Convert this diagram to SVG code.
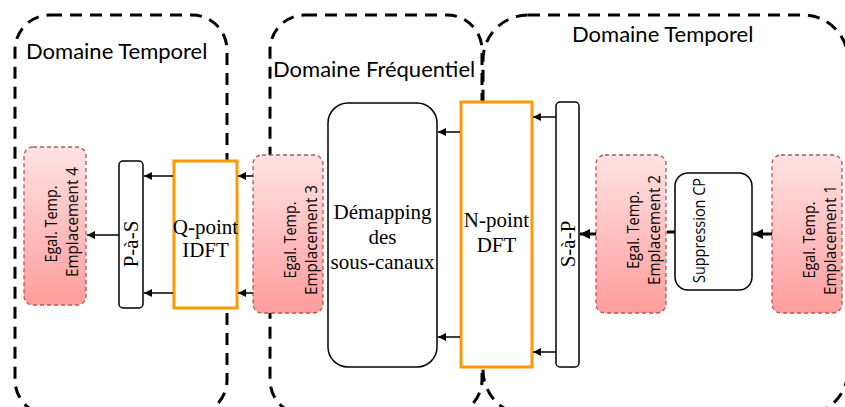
<svg xmlns="http://www.w3.org/2000/svg" width="845" height="407" viewBox="0 0 845 407">
<style>
.dom{fill:none;stroke:#000;stroke-width:3;stroke-dasharray:12 8}
.dl{font-family:Lato,"Open Sans",sans-serif;font-size:22px;fill:#000}
.eg{stroke:#b85450;stroke-width:1.3;stroke-dasharray:4 3;fill:url(#pg)}
.et{font-family:"Open Sans",Lato,sans-serif;font-size:15.5px;fill:#000;text-anchor:middle}
.bx{fill:#fff;stroke:#000;stroke-width:1.5}
.or{fill:#fff;stroke:#ff9900;stroke-width:3}
.st{font-family:"Liberation Serif","Times New Roman",serif;font-size:21px;fill:#000;text-anchor:middle}
.cn{stroke:#000;stroke-width:1.5;fill:none}
.ck{stroke:#000;stroke-width:3;fill:none}
</style>
<defs>
<linearGradient id="pg" x1="0" y1="0" x2="0" y2="1">
<stop offset="0" stop-color="#ffe3e3"/>
<stop offset="1" stop-color="#ff9c9c"/>
</linearGradient>
<marker id="ah" viewBox="0 0 10 10" refX="10" refY="5" markerWidth="8" markerHeight="8" markerUnits="userSpaceOnUse" orient="auto">
<path d="M0,0 L10,5 L0,10 z" fill="#000"/>
</marker>
<marker id="ahb" viewBox="0 0 10 10" refX="10" refY="5" markerWidth="10" markerHeight="10" markerUnits="userSpaceOnUse" orient="auto">
<path d="M0,0 L10,5 L0,10 z" fill="#000"/>
</marker>
</defs>

<g id="domaines">
<rect class="dom" x="15" y="15" width="212" height="400" rx="35"/>
<rect class="dom" x="270" y="15" width="212" height="400" rx="35"/>
<rect class="dom" x="483" y="15" width="365" height="400" rx="45"/>
<text class="dl" x="26" y="59">Domaine Temporel</text>
<text class="dl" x="273" y="77">Domaine Fréquentiel</text>
<text class="dl" x="572" y="42">Domaine Temporel</text>
</g>

<g id="egal4">
<rect class="eg" x="24" y="147" width="62" height="158" rx="9"/>
<text class="et" transform="translate(57,224) rotate(-90)" textLength="77" lengthAdjust="spacingAndGlyphs">Egal. Temp.</text>
<text class="et" transform="translate(78,222) rotate(-90)" textLength="110" lengthAdjust="spacingAndGlyphs">Emplacement 4</text>
</g>
<g id="pas">
<rect class="bx" x="119" y="161" width="24" height="147" rx="4"/>
<text class="st" transform="translate(138,244) rotate(-90)">P-à-S</text>
</g>
<g id="idft">
<rect class="or" x="174" y="161" width="63" height="147"/>
<text class="st" x="205.5" y="234">Q-point</text>
<text class="st" x="205.5" y="257">IDFT</text>
</g>
<g id="egal3">
<rect class="eg" x="253" y="155" width="70" height="158" rx="9"/>
<text class="et" transform="translate(296,240) rotate(-90)" textLength="77" lengthAdjust="spacingAndGlyphs">Egal. Temp.</text>
<text class="et" transform="translate(317,240) rotate(-90)" textLength="110" lengthAdjust="spacingAndGlyphs">Emplacement 3</text>
</g>
<g id="demapping">
<rect class="bx" x="328" y="103" width="109" height="264" rx="20"/>
<text class="st" x="382.5" y="219">Démapping</text>
<text class="st" x="382.5" y="244">des</text>
<text class="st" x="382.5" y="269">sous-canaux</text>
</g>
<g id="dft">
<rect class="or" x="461" y="102" width="71" height="265"/>
<text class="st" x="496.5" y="227">N-point</text>
<text class="st" x="496.5" y="252">DFT</text>
</g>
<g id="sap">
<rect class="bx" x="556" y="102" width="23" height="265" rx="4"/>
<text class="st" transform="translate(575,244) rotate(-90)">S-à-P</text>
</g>
<g id="egal2">
<rect class="eg" x="596" y="155" width="70" height="158" rx="9"/>
<text class="et" transform="translate(639,230) rotate(-90)" textLength="78" lengthAdjust="spacingAndGlyphs">Egal. Temp.</text>
<text class="et" transform="translate(660,230) rotate(-90)" textLength="110" lengthAdjust="spacingAndGlyphs">Emplacement 2</text>
</g>
<g id="suppcp">
<rect class="bx" x="675" y="173" width="77" height="117" rx="13"/>
<text class="et" transform="translate(705,230.5) rotate(-90)" textLength="105" lengthAdjust="spacingAndGlyphs">Suppression CP</text>
</g>
<g id="egal1">
<rect class="eg" x="772" y="155" width="70" height="158" rx="9"/>
<text class="et" transform="translate(815,240) rotate(-90)" textLength="77" lengthAdjust="spacingAndGlyphs">Egal. Temp.</text>
<text class="et" transform="translate(836,240) rotate(-90)" textLength="110" lengthAdjust="spacingAndGlyphs">Emplacement 1</text>
</g>

<g id="connecteurs">
<line class="cn" x1="119" y1="235" x2="87" y2="235" marker-end="url(#ah)"/>
<line class="cn" x1="173" y1="176" x2="144" y2="176" marker-end="url(#ah)"/>
<line class="cn" x1="173" y1="293" x2="144" y2="293" marker-end="url(#ah)"/>
<line class="cn" x1="253" y1="176" x2="238" y2="176" marker-end="url(#ah)"/>
<line class="cn" x1="253" y1="293" x2="238" y2="293" marker-end="url(#ah)"/>
<line class="cn" x1="460" y1="132" x2="438" y2="132" marker-end="url(#ah)"/>
<line class="cn" x1="460" y1="337" x2="438" y2="337" marker-end="url(#ah)"/>
<line class="cn" x1="556" y1="117" x2="533" y2="117" marker-end="url(#ah)"/>
<line class="cn" x1="556" y1="352" x2="533" y2="352" marker-end="url(#ah)"/>
<line class="ck" x1="596" y1="234" x2="580" y2="234" marker-end="url(#ahb)"/>
<line class="ck" x1="675" y1="232" x2="667" y2="232"/>
<line class="ck" x1="772" y1="234" x2="753" y2="234" marker-end="url(#ahb)"/>
</g>
</svg>
